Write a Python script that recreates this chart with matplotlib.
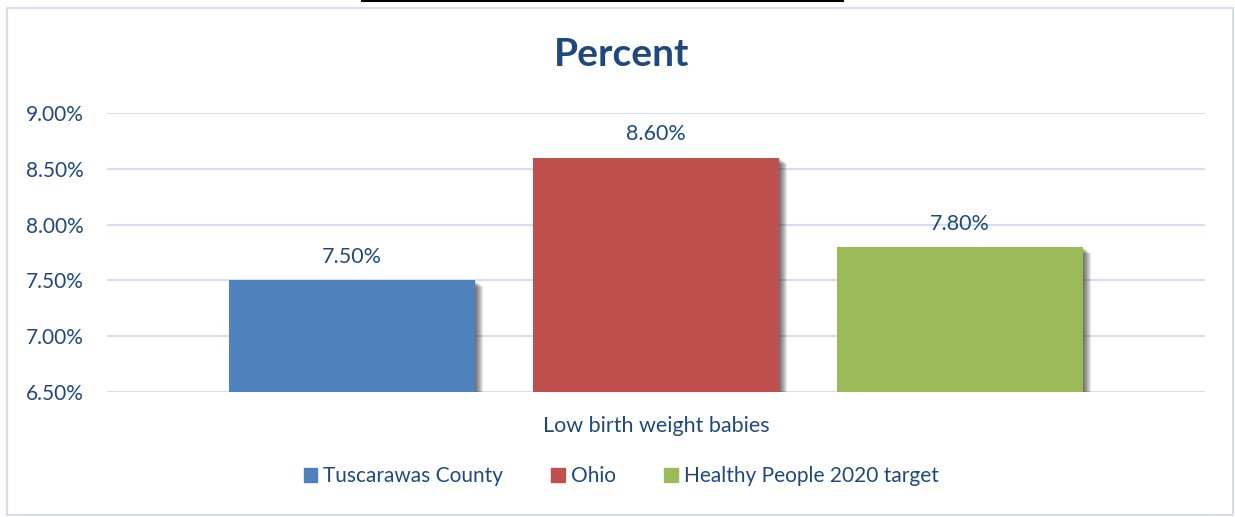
import matplotlib.pyplot as plt
from matplotlib.patches import Rectangle
from matplotlib.lines import Line2D

series = ["Tuscarawas County", "Ohio", "Healthy People 2020 target"]
values = [7.5, 8.6, 7.8]
colors = ["#4F81BD", "#C0504D", "#9BBB59"]
category = "Low birth weight babies"
yticks = [6.5, 7.0, 7.5, 8.0, 8.5, 9.0]

text_color = "#1F497D"
grid_color = "#D3DFEF"
plt.rcParams["font.family"] = ["Lato", "DejaVu Sans"]

W, H = 1235, 517
fig = plt.figure(figsize=(W / 100, H / 100), dpi=100)
ax = fig.add_axes([107 / W, 1 - 392 / H, 1098 / W, 279 / H])

positions = [-1, 0, 1]
width = 0.81
ax.set_xlim(-1.806, 1.806)
ax.set_ylim(yticks[0], yticks[-1])

# soft shadow to the right / bottom of each bar
px_x = 3.612 / 1098
px_y = 2.5 / 279
for pos, val in zip(positions, values):
    for k in range(1, 9):
        ax.add_patch(Rectangle((pos - width / 2 + k * px_x, yticks[0] - k * px_y * 0.3),
                               width, val - yticks[0] - k * px_y * 0.5,
                               facecolor="black", alpha=0.09, lw=0, zorder=2))

ax.bar(positions, [v - yticks[0] for v in values], width=width,
       bottom=yticks[0], color=colors, zorder=3)

for pos, val in zip(positions, values):
    ax.text(pos, val + 0.12, f"{val:.2f}%", ha="center", va="bottom",
            fontsize=15.5, color=text_color)

ax.set_yticks(yticks)
ax.set_yticklabels([f"{t:.2f}%" for t in yticks], fontsize=15, color=text_color)
ax.tick_params(axis="y", length=0, pad=17)
ax.set_xticks([0])
ax.set_xticklabels([category], fontsize=15.5, color=text_color)
ax.tick_params(axis="x", length=0, pad=17)
ax.grid(axis="y", color=grid_color, lw=1.5, zorder=0)
ax.set_axisbelow(True)
for s in ax.spines.values():
    s.set_visible(False)

fig.text(0.503, 1 - 55 / H, "Percent", ha="center", va="center",
         fontsize=28, fontweight="bold", color=text_color)

handles = [Rectangle((0, 0), 1, 1, color=c) for c in colors]
fig.legend(handles, series, loc="center", bbox_to_anchor=(0.503, 1 - 476 / H),
           ncol=3, frameon=False, fontsize=15, labelcolor=text_color,
           handlelength=0.65, handleheight=0.65, handletextpad=0.3,
           columnspacing=2.3)

# chart border and the cut-off underline at the top
fig.patches.append(Rectangle((7 / W, 1 - 515 / H), 1226 / W, 507 / H,
                             transform=fig.transFigure, fill=False,
                             edgecolor=grid_color, lw=1.5))
fig.lines.append(Line2D([362 / W, 843 / W], [1 - 1 / H, 1 - 1 / H],
                        transform=fig.transFigure, color="black", lw=1.5))

fig.savefig("out.png", dpi=100)
